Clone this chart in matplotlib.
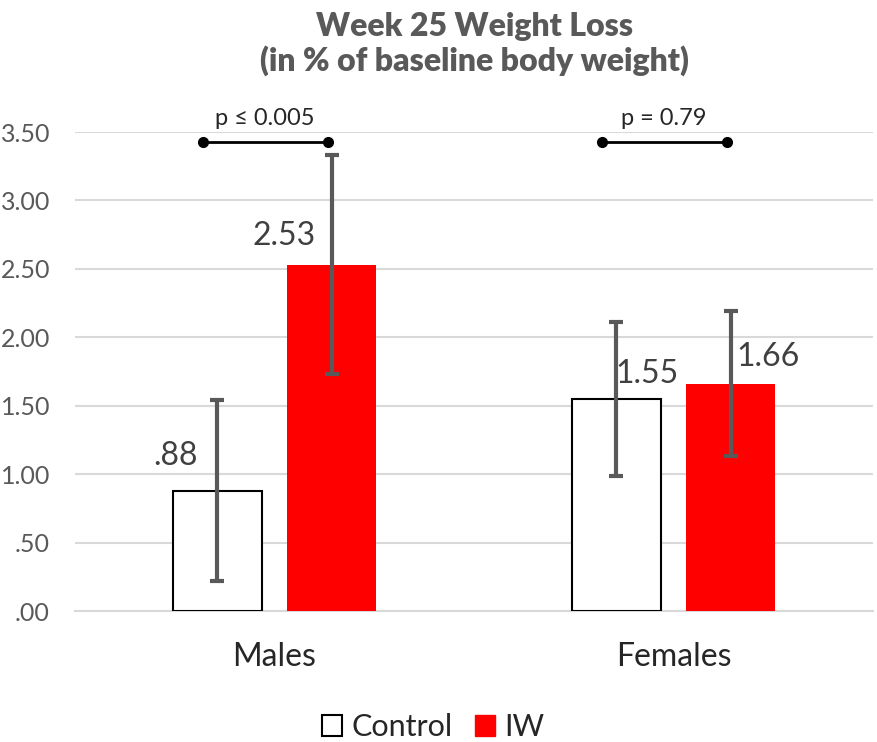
import matplotlib
matplotlib.use("Agg")
import matplotlib.pyplot as plt
from matplotlib.patches import Patch
import numpy as np

# ---- data ----
categories = ["Males", "Females"]
series_names = ["Control", "IW"]
control_values = [0.88, 1.55]
iw_values = [2.53, 1.66]
control_err = [0.66, 0.56]
iw_err = [0.80, 0.53]
value_labels_control = [".88", "1.55"]
value_labels_iw = ["2.53", "1.66"]
p_labels = ["p \u2264 0.005", "p = 0.79"]
p_bracket_y = 3.43
y_ticks = [0.0, 0.5, 1.0, 1.5, 2.0, 2.5, 3.0, 3.5]
y_tick_labels = [".00", ".50", "1.00", "1.50", "2.00", "2.50", "3.00", "3.50"]
title = "Week 25 Weight Loss\n(in % of baseline body weight)"

# ---- style ----
FONT = ["Lato", "DejaVu Sans"]
plt.rcParams["font.family"] = FONT
bar_w = 0.223
off = 0.143
red = "#ff0000"
err_col = "#595959"
# label offsets in points (dx, dy) relative to bar top center
ctrl_lab_off = [(-30, 25), (22, 18)]
iw_lab_off = [(-34, 21), (27, 19)]

fig = plt.figure(figsize=(8.77, 7.42), dpi=100)
ax = fig.add_axes([0.0855, 0.1765, 0.910, 0.6456])

x = np.arange(len(categories))
xc = x - off
xi = x + off

ax.bar(xc, control_values, width=bar_w, color="white", edgecolor="black",
       linewidth=1.5, zorder=3)
ax.bar(xi, iw_values, width=bar_w, color=red, edgecolor=red, linewidth=0, zorder=3)
ax.errorbar(xc, control_values, yerr=control_err, fmt="none", ecolor=err_col,
            elinewidth=3, capsize=5, capthick=3, zorder=4)
ax.errorbar(xi, iw_values, yerr=iw_err, fmt="none", ecolor=err_col,
            elinewidth=3, capsize=5, capthick=3, zorder=4)

for i in range(len(categories)):
    ax.annotate(value_labels_control[i], (xc[i], control_values[i]),
                xytext=ctrl_lab_off[i], textcoords="offset points",
                ha="center", va="center", fontsize=23, color="#404040", zorder=5)
    ax.annotate(value_labels_iw[i], (xi[i], iw_values[i]),
                xytext=iw_lab_off[i], textcoords="offset points",
                ha="center", va="center", fontsize=23, color="#404040", zorder=5)
    # significance bracket
    bx = [x[i] - 0.18, x[i] + 0.133]
    ax.plot(bx, [p_bracket_y, p_bracket_y], color="black", lw=2,
            marker="o", markersize=7, zorder=5, clip_on=False)
    ax.text(np.mean(bx), p_bracket_y + 0.09, p_labels[i], ha="center",
            va="bottom", fontsize=17, color="#262626")

ax.set_xlim(-0.5, 1.5)
ax.set_ylim(0, 3.5)
ax.set_yticks(y_ticks)
ax.set_yticklabels(y_tick_labels)
ax.set_xticks(x)
ax.set_xticklabels(categories)
ax.tick_params(axis="y", length=0, pad=18, labelsize=18, labelcolor="#595959")
ax.tick_params(axis="x", length=0, pad=22, labelsize=23, labelcolor="#262626")
ax.grid(axis="y", color="#d9d9d9", lw=1.5, zorder=0)
ax.set_axisbelow(True)
for s in ["top", "right", "left"]:
    ax.spines[s].set_visible(False)
ax.spines["bottom"].set_color("#d9d9d9")
ax.spines["bottom"].set_linewidth(1.5)

fig.text(0.541, 0.984, title, ha="center", va="top", fontsize=23,
         fontweight="heavy", color="#595959", linespacing=1.15)

handles = [Patch(facecolor="white", edgecolor="black", lw=1.5),
           Patch(facecolor=red, edgecolor=red)]
fig.legend(handles, series_names, loc="center", bbox_to_anchor=(0.494, 0.02),
           ncol=2, frameon=False, fontsize=22, handlelength=0.65,
           handleheight=0.65, handletextpad=0.3, columnspacing=0.75,
           labelcolor="#262626")

fig.savefig("out.png", dpi=100)
